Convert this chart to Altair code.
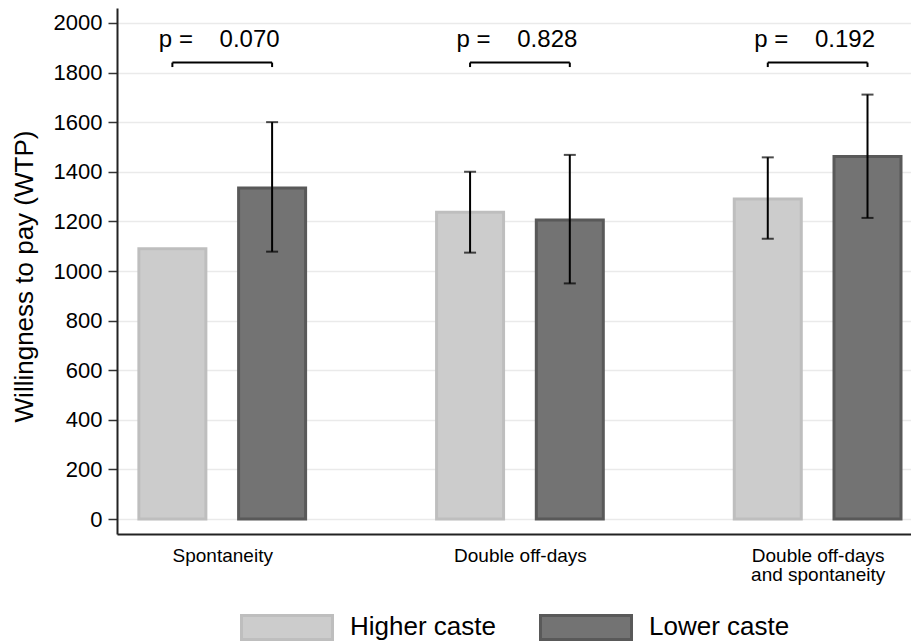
import json
import altair as alt
import pandas as pd

# ---- data ----
categories = ["Spontaneity", "Double off-days", "Double off-days\nand spontaneity"]
groups = ["Higher caste", "Lower caste"]
mean_higher = [1090, 1237, 1290]
mean_lower = [1335, 1206, 1461]
ci_lo_higher = [None, 1074, 1130]
ci_hi_higher = [None, 1400, 1458]
ci_lo_lower = [1078, 950, 1214]
ci_hi_lower = [1600, 1468, 1711]
p_values = ["0.070", "0.828", "0.192"]
y_ticks = list(range(0, 2001, 200))
bracket_level = 1840
bracket_drop = 18
p_label_level = 1903

# ---- layout helpers ----
OFF = 0.1675
FONT = "Liberation Sans"
NBSP = "\u00a0"

rows = []
for i, cat in enumerate(categories):
    for g, means, lo, hi, off in [
        (groups[0], mean_higher, ci_lo_higher, ci_hi_higher, -OFF),
        (groups[1], mean_lower, ci_lo_lower, ci_hi_lower, OFF),
    ]:
        rows.append(dict(cat=cat, idx=i, group=g, pos=i + off,
                         mean=means[i], lo=lo[i], hi=hi[i]))
df = pd.DataFrame(rows)

prow = []
for i, p in enumerate(p_values):
    prow.append(dict(idx=i, left=i - OFF, right=i + OFF,
                     label="p" + NBSP + "=" + NBSP * 4 + p, top=bracket_level,
                     bottom=bracket_level - bracket_drop, ly=p_label_level))
pdf = pd.DataFrame(prow)

xscale = alt.Scale(domain=[-0.3367, 2.2968], nice=False, zero=False)
yscale = alt.Scale(domain=[-60, 2060], nice=False, zero=False)

label_lines = [c.split("\n") for c in categories]
x_axis = alt.Axis(values=list(range(len(categories))),
                  labelExpr=json.dumps(label_lines) + "[datum.value]",
                  ticks=False, grid=False, domainColor="#222", domainWidth=2,
                  labelFontSize=19, labelPadding=12, labelLineHeight=19,
                  labelFont=FONT, labelColor="black", title=None,
                  labelAngle=0)
y_axis = alt.Axis(values=y_ticks, format="d", grid=True, gridColor="#eaeaea", gridWidth=1.5,
                  tickSize=9, tickWidth=1.5, tickColor="#333",
                  domainColor="#222", domainWidth=2,
                  labelFontSize=22, labelFont=FONT, labelColor="black",
                  labelPadding=6, title="Willingness to pay (WTP)",
                  titleFont=FONT, titleFontSize=26, titleFontWeight="normal",
                  titleColor="black", titleX=-93, titleY=268, titleAngle=270,
                  titleBaseline="middle", titleAlign="center")

legend = alt.Legend(orient="none", legendX=123, legendY=572,
                    direction="horizontal", title=None,
                    symbolType="M-1,-0.264H1V0.264H-1Z", symbolSize=8281,
                    symbolStrokeWidth=3, labelFontSize=26, labelFont=FONT,
                    labelColor="black", labelOffset=16, columnPadding=38,
                    padding=0, symbolOpacity=1)

base = alt.Chart(df)

bars = base.mark_bar(size=67, strokeWidth=3).encode(
    x=alt.X("pos:Q", scale=xscale, axis=x_axis),
    y=alt.Y("mean:Q", scale=yscale, axis=y_axis),
    y2=alt.datum(0),
    fill=alt.Fill("group:N", scale=alt.Scale(domain=groups, range=["#cccccc", "#737373"]), legend=legend),
    stroke=alt.Stroke("group:N", scale=alt.Scale(domain=groups, range=["#bebebe", "#595959"]), legend=legend),
)

err = base.transform_filter("isValid(datum.lo)")
err_rule = err.mark_rule(color="black", strokeWidth=2).encode(
    x="pos:Q", y="lo:Q", y2="hi:Q")
cap_lo = err.mark_tick(color="black", thickness=2, size=12, orient="horizontal").encode(
    x="pos:Q", y="lo:Q")
cap_hi = err.mark_tick(color="black", thickness=2, size=12, orient="horizontal").encode(
    x="pos:Q", y="hi:Q")

pbase = alt.Chart(pdf)
br_h = pbase.mark_rule(color="black", strokeWidth=2).encode(
    x="left:Q", x2="right:Q", y="top:Q")
br_l = pbase.mark_rule(color="black", strokeWidth=2).encode(
    x="left:Q", y="bottom:Q", y2="top:Q")
br_r = pbase.mark_rule(color="black", strokeWidth=2).encode(
    x="right:Q", y="bottom:Q", y2="top:Q")
ptext = pbase.mark_text(fontSize=24, font=FONT, color="black",
                        baseline="alphabetic", align="center", dx=-3).encode(
    x="idx:Q", y="ly:Q", text="label:N")

chart = alt.layer(bars, err_rule, cap_lo, cap_hi, br_h, br_l, br_r, ptext).properties(
    width=794, height=526,
    autosize=alt.AutoSizeParams(type="none"),
    padding={"left": 117, "top": 8, "right": 0, "bottom": 110},
    background="white",
).configure_view(stroke=None)

chart.save("out.html", embed_options={"renderer": "svg", "actions": False})
